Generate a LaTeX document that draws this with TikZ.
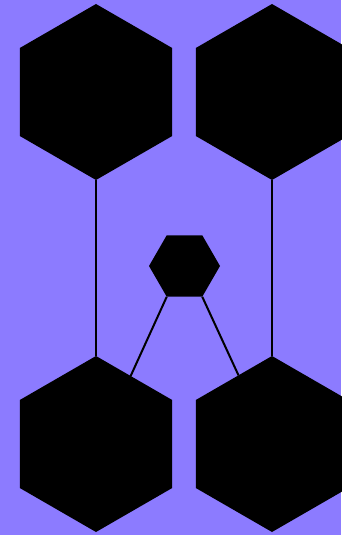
\documentclass[tikz,border=0pt]{standalone}
\usetikzlibrary{shapes.geometric}
\definecolor{bgpurple}{RGB}{140,123,255}
\begin{document}
\begin{tikzpicture}[x=1pt,y=-1pt,
  bighex/.style={regular polygon,regular polygon sides=6,shape border rotate=30,
    minimum size=176pt,inner sep=0pt,outer sep=0pt,fill=black},
  smallhex/.style={regular polygon,regular polygon sides=6,
    minimum size=71pt,inner sep=0pt,outer sep=0pt,fill=black},
  link/.style={draw=black,line width=2pt}]
\fill[bgpurple] (0,0) rectangle (341,535);
\useasboundingbox (0,0) rectangle (341,535);
\node[bighex] (tl) at (96,92) {};
\node[bighex] (tr) at (272,92) {};
\node[bighex] (bl) at (96,444) {};
\node[bighex] (br) at (272,444) {};
\node[smallhex] (s) at (184.5,266) {};
\draw[link] (tl.270) -- (bl.90);
\draw[link] (tr.270) -- (br.90);
\draw[link] (s.240) -- (bl.63.6);
\draw[link] (s.300) -- (br.116);
\end{tikzpicture}
\end{document}
